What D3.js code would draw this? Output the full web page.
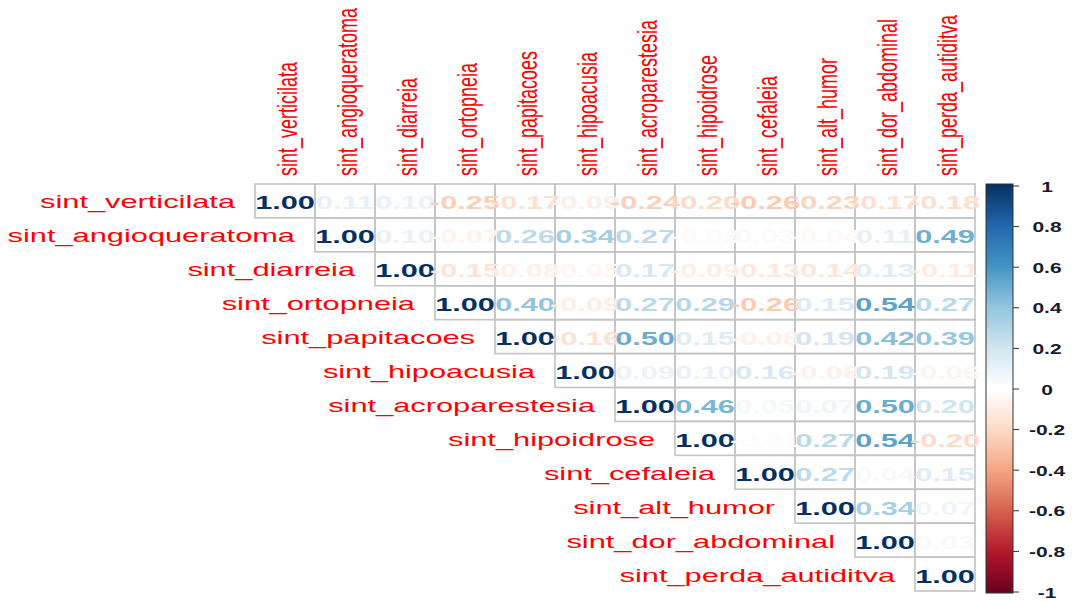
<!DOCTYPE html>
<html>
<head>
<meta charset="utf-8">
<script src="https://cdn.jsdelivr.net/npm/d3@7"></script>
<style>
  html, body { margin: 0; padding: 0; background: #fff; }
  svg { display: block; }
  text { font-family: "Liberation Sans", Arial, sans-serif; }
</style>
</head>
<body>
<svg id="chart" width="1072" height="601"></svg>
<script>
// Symptom names (rows and columns of the correlation matrix)
const symptoms = [
  "sint_verticilata", "sint_angioqueratoma", "sint_diarreia", "sint_ortopneia",
  "sint_papitacoes", "sint_hipoacusia", "sint_acroparestesia", "sint_hipoidrose",
  "sint_cefaleia", "sint_alt_humor", "sint_dor_abdominal", "sint_perda_autiditva"
];

// Upper triangle of the correlation matrix, one array per row starting at the diagonal
const row01 = [1.00, 0.11, 0.10, -0.25, -0.17, -0.09, -0.24, -0.20, -0.26, -0.23, -0.17, -0.18];
const row02 = [1.00, 0.10, -0.07, 0.26, 0.34, 0.27, -0.03, 0.03, -0.04, 0.11, 0.49];
const row03 = [1.00, -0.15, -0.08, -0.05, 0.17, -0.09, -0.13, -0.14, 0.13, -0.11];
const row04 = [1.00, 0.40, -0.09, 0.27, 0.29, -0.26, 0.15, 0.54, 0.27];
const row05 = [1.00, -0.16, 0.50, 0.15, -0.08, 0.19, 0.42, 0.39];
const row06 = [1.00, 0.09, 0.10, 0.16, -0.08, 0.19, -0.06];
const row07 = [1.00, 0.46, 0.05, 0.07, 0.50, 0.20];
const row08 = [1.00, -0.01, 0.27, 0.54, -0.20];
const row09 = [1.00, 0.27, 0.04, 0.15];
const row10 = [1.00, 0.34, 0.07];
const row11 = [1.00, 0.03];
const row12 = [1.00];
const upperRows = [row01, row02, row03, row04, row05, row06, row07, row08, row09, row10, row11, row12];

// Colour legend ticks
const legendTicks = [1, 0.8, 0.6, 0.4, 0.2, 0, -0.2, -0.4, -0.6, -0.8, -1];

// Diverging palette (RdBu) from -1 to 1
const paletteColors = ["#67001F", "#B2182B", "#D6604D", "#F4A582", "#FDDBC7", "#FFFFFF",
                       "#D1E5F0", "#92C5DE", "#4393C3", "#2166AC", "#053061"];

const svg = d3.select("#chart");
const SX_VAL = 1.66;   // horizontal stretch of coefficient labels
const SX_LAB = 1.71;   // horizontal stretch of row labels
const SX_COL = 1.57;   // horizontal stretch of rotated column labels

const color = d3.scaleLinear()
  .domain(d3.range(paletteColors.length).map(i => -1 + 2 * i / (paletteColors.length - 1)))
  .range(paletteColors)
  .interpolate(d3.interpolateRgb);

const x = d3.scaleBand().domain(symptoms).range([255, 975]);
const y = d3.scaleBand().domain(symptoms).range([184, 591]);

// Flatten the upper triangle into cells
const cells = [];
upperRows.forEach((vals, i) => {
  vals.forEach((v, k) => {
    const j = i + k;
    cells.push({ row: symptoms[i], col: symptoms[j], value: v });
  });
});

// Cell grid
svg.append("g")
  .selectAll("rect")
  .data(cells)
  .join("rect")
  .attr("x", d => x(d.col))
  .attr("y", d => y(d.row))
  .attr("width", x.bandwidth())
  .attr("height", y.bandwidth())
  .attr("fill", "none")
  .attr("stroke", "#c4c4c4")
  .attr("stroke-width", 1.6);

// Coefficient labels
svg.append("g")
  .selectAll("text")
  .data(cells)
  .join("text")
  .attr("transform", d => `translate(${x(d.col) + x.bandwidth() / 2},${y(d.row) + y.bandwidth() / 2 + 8.5}) scale(${SX_VAL},1)`)
  .attr("text-anchor", "middle")
  .attr("font-size", 18.5)
  .attr("font-weight", "bold")
  .attr("fill", d => color(d.value))
  .text(d => d.value.toFixed(2));

// Row labels, right-aligned next to the diagonal cell
svg.append("g")
  .selectAll("text")
  .data(symptoms)
  .join("text")
  .attr("transform", (d) => `translate(${x(d) - 20},${y(d) + y.bandwidth() / 2 + 7.5}) scale(${SX_LAB},1)`)
  .attr("text-anchor", "end")
  .attr("font-size", 18)
  .attr("fill", "#ff0000")
  .text(d => d);

// Column labels, rotated
svg.append("g")
  .selectAll("text")
  .data(symptoms)
  .join("text")
  .attr("transform", d => `translate(${x(d) + x.bandwidth() / 2 + 2},176) scale(${SX_COL},1) rotate(-90)`)
  .attr("dy", "0.35em")
  .attr("text-anchor", "start")
  .attr("font-size", 18)
  .attr("fill", "#ff0000")
  .text(d => d);

// Colour legend
const legendY = d3.scaleLinear().domain([-1, 1]).range([592, 186]);
const defs = svg.append("defs");
const grad = defs.append("linearGradient")
  .attr("id", "legendGrad")
  .attr("x1", 0).attr("y1", 1).attr("x2", 0).attr("y2", 0);
d3.range(0, 1.0001, 0.05).forEach(t => {
  grad.append("stop")
    .attr("offset", t)
    .attr("stop-color", color(-1 + 2 * t));
});

svg.append("rect")
  .attr("x", 986)
  .attr("y", 184)
  .attr("width", 27)
  .attr("height", 409)
  .attr("fill", "url(#legendGrad)")
  .attr("stroke", "#333")
  .attr("stroke-width", 1);

const legendG = svg.append("g");
legendG.selectAll("line")
  .data(legendTicks)
  .join("line")
  .attr("x1", 1013).attr("x2", 1019)
  .attr("y1", d => legendY(d)).attr("y2", d => legendY(d))
  .attr("stroke", "#333")
  .attr("stroke-width", 1);

legendG.selectAll("text")
  .data(legendTicks)
  .join("text")
  .attr("transform", d => `translate(1047,${legendY(d) + 5.5}) scale(1.4,1)`)
  .attr("text-anchor", "middle")
  .attr("font-size", 15)
  .attr("font-weight", "bold")
  .attr("fill", "#1a1a2e")
  .text(d => String(d));
</script>
</body>
</html>
